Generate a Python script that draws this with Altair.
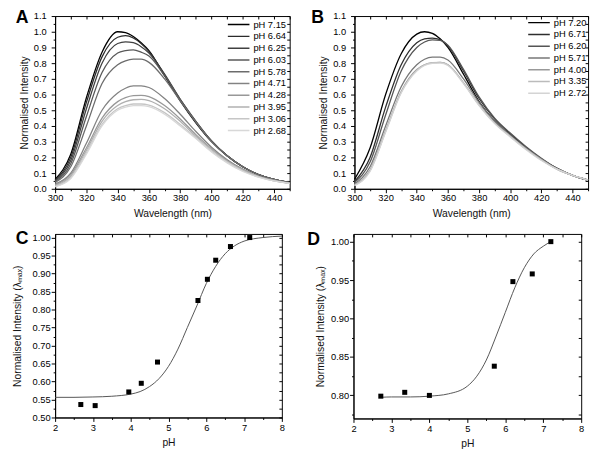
import altair as alt
import pandas as pd

FONT = "Liberation Sans"

# ---------------- Panel A: emission spectra ----------------
wavelengths = [300, 310, 320, 330, 340, 345, 350, 355, 360, 370, 380, 390, 400, 410, 420, 430, 440, 450]

a_labels = ["pH 7.15", "pH 6.64", "pH 6.25", "pH 6.03", "pH 5.78",
            "pH 4.71", "pH 4.28", "pH 3.95", "pH 3.06", "pH 2.68"]
a_colors = ["#000000", "#2b2b2b", "#404040", "#585858", "#6c6c6c",
            "#828282", "#989898", "#b0b0b0", "#c6c6c6", "#d8d8d8"]
a_715 = [0.06, 0.22, 0.58, 0.87, 1.00, 0.995, 0.97, 0.93, 0.88, 0.72, 0.56, 0.42, 0.30, 0.21, 0.14, 0.09, 0.06, 0.04]
a_664 = [0.055, 0.20, 0.55, 0.84, 0.965, 0.975, 0.96, 0.925, 0.875, 0.725, 0.565, 0.425, 0.305, 0.21, 0.14, 0.09, 0.06, 0.04]
a_625 = [0.05, 0.18, 0.51, 0.80, 0.925, 0.935, 0.93, 0.905, 0.865, 0.73, 0.57, 0.43, 0.305, 0.21, 0.14, 0.09, 0.06, 0.04]
a_603 = [0.045, 0.16, 0.46, 0.74, 0.865, 0.88, 0.885, 0.87, 0.845, 0.72, 0.57, 0.43, 0.305, 0.21, 0.14, 0.09, 0.06, 0.04]
a_578 = [0.04, 0.14, 0.40, 0.67, 0.79, 0.815, 0.825, 0.825, 0.805, 0.70, 0.56, 0.425, 0.30, 0.21, 0.14, 0.09, 0.06, 0.04]
a_471 = [0.03, 0.10, 0.29, 0.50, 0.61, 0.64, 0.655, 0.655, 0.645, 0.575, 0.475, 0.365, 0.265, 0.185, 0.125, 0.08, 0.055, 0.035]
a_428 = [0.025, 0.09, 0.26, 0.45, 0.555, 0.58, 0.593, 0.595, 0.587, 0.53, 0.445, 0.345, 0.255, 0.18, 0.12, 0.08, 0.055, 0.035]
a_395 = [0.02, 0.08, 0.245, 0.43, 0.53, 0.555, 0.567, 0.57, 0.562, 0.51, 0.43, 0.335, 0.25, 0.175, 0.12, 0.08, 0.05, 0.035]
a_306 = [0.015, 0.07, 0.23, 0.41, 0.51, 0.53, 0.54, 0.54, 0.533, 0.485, 0.41, 0.325, 0.24, 0.17, 0.115, 0.075, 0.05, 0.035]
a_268 = [0.012, 0.065, 0.22, 0.40, 0.50, 0.52, 0.53, 0.53, 0.523, 0.475, 0.40, 0.32, 0.235, 0.165, 0.11, 0.075, 0.05, 0.035]
a_series = [a_715, a_664, a_625, a_603, a_578, a_471, a_428, a_395, a_306, a_268]

# ---------------- Panel B: emission spectra ----------------
b_labels = ["pH 7.20", "pH 6.71", "pH 6.20", "pH 5.71", "pH 4.00", "pH 3.35", "pH 2.72"]
b_colors = ["#000000", "#2e2e2e", "#555555", "#777777", "#999999", "#bbbbbb", "#d4d4d4"]
b_720 = [0.06, 0.26, 0.60, 0.86, 0.985, 1.0, 0.99, 0.955, 0.90, 0.73, 0.555, 0.43, 0.34, 0.26, 0.19, 0.13, 0.085, 0.055]
b_671 = [0.045, 0.20, 0.52, 0.79, 0.93, 0.955, 0.96, 0.95, 0.91, 0.75, 0.575, 0.445, 0.35, 0.265, 0.19, 0.13, 0.085, 0.055]
b_620 = [0.04, 0.17, 0.47, 0.75, 0.90, 0.935, 0.948, 0.945, 0.915, 0.76, 0.585, 0.45, 0.355, 0.27, 0.195, 0.13, 0.085, 0.055]
b_571 = [0.03, 0.14, 0.40, 0.65, 0.79, 0.825, 0.838, 0.838, 0.82, 0.70, 0.55, 0.43, 0.34, 0.26, 0.19, 0.13, 0.085, 0.055]
b_400 = [0.025, 0.12, 0.37, 0.62, 0.76, 0.79, 0.802, 0.805, 0.79, 0.675, 0.535, 0.42, 0.335, 0.255, 0.185, 0.125, 0.085, 0.055]
b_335 = [0.022, 0.115, 0.365, 0.615, 0.755, 0.79, 0.803, 0.805, 0.79, 0.675, 0.535, 0.42, 0.335, 0.255, 0.185, 0.125, 0.085, 0.055]
b_272 = [0.02, 0.11, 0.36, 0.61, 0.75, 0.785, 0.798, 0.80, 0.785, 0.67, 0.53, 0.415, 0.33, 0.25, 0.18, 0.125, 0.085, 0.055]
b_series = [b_720, b_671, b_620, b_571, b_400, b_335, b_272]

# ---------------- Panel C: intensity vs pH ----------------
c_ph = [2.68, 3.06, 3.95, 4.28, 4.71, 5.78, 6.03, 6.25, 6.64, 7.15]
c_int = [0.536, 0.533, 0.571, 0.595, 0.654, 0.825, 0.884, 0.937, 0.975, 1.0]
c_fit_ph = [2.0, 2.5, 3.0, 3.5, 4.0, 4.25, 4.5, 4.75, 5.0, 5.25, 5.5, 5.75, 6.0, 6.25, 6.5, 6.75, 7.0, 7.5, 8.0]
c_fit_int = [0.556, 0.556, 0.557, 0.559, 0.565, 0.572, 0.586, 0.608, 0.642, 0.69, 0.75, 0.81, 0.872, 0.92, 0.955, 0.977, 0.99, 1.0, 1.004]

# ---------------- Panel D: intensity vs pH ----------------
d_ph = [2.72, 3.35, 4.00, 5.71, 6.20, 6.71, 7.20]
d_int = [0.799, 0.804, 0.800, 0.838, 0.948, 0.958, 1.000]
d_fit_ph = [2.72, 3.0, 3.5, 4.0, 4.5, 5.0, 5.25, 5.5, 5.75, 6.0, 6.25, 6.5, 6.75, 7.0, 7.2]
d_fit_int = [0.7975, 0.798, 0.798, 0.799, 0.802, 0.812, 0.825, 0.846, 0.876, 0.908, 0.94, 0.966, 0.984, 0.994, 1.0]

panel_letters = ["A", "B", "C", "D"]

# tick positions
spec_x_ticks = list(range(300, 451, 10))
spec_y_ticks = [round(i * 0.05, 2) for i in range(23)]
ph_ticks = [2 + i * 0.5 for i in range(13)]
c_y_ticks = [round(0.5 + i * 0.025, 3) for i in range(21)]
d_y_ticks = [round(0.775 + i * 0.025, 3) for i in range(10)]


def cond_size(test, major, minor):
    return {"condition": {"test": test, "value": major}, "value": minor}


def letter_layer(text, dx, dy):
    return alt.Chart(pd.DataFrame({"t": [text]})).mark_text(
        font=FONT, fontSize=18, fontWeight="bold", color="black",
        align="left", baseline="alphabetic"
    ).encode(text="t:N", x=alt.value(dx), y=alt.value(dy))


def mirror_axes(df, xfield, yfield, xs, ys, xticks, yticks, detail=None):
    enc = dict(
        x=alt.X(xfield, scale=xs, axis=alt.Axis(orient="top", values=xticks, labels=False, title=None,
                                                 tickSize=3, offset=-3, domain=False, grid=False)),
        y=alt.Y(yfield, scale=ys, axis=alt.Axis(orient="right", values=yticks, labels=False, title=None,
                                                 tickSize=3, offset=-3, domain=False, grid=False)),
    )
    if detail:
        enc["detail"] = detail
    return alt.Chart(df).mark_line(opacity=0).encode(**enc)


def spectra_panel(labels, series, colors, field, letter, letter_dx, width, height, leg_offset):
    rows = []
    for name, vals in zip(labels, series):
        for w, v in zip(wavelengths, vals):
            rows.append({"w": w, "v": v, field: name})
    df = pd.DataFrame(rows)
    xs = alt.Scale(domain=[300, 450], nice=False, zero=False)
    ys = alt.Scale(domain=[0, 1.1], nice=False, zero=False)
    x_axis = alt.Axis(values=spec_x_ticks, title="Wavelength (nm)", grid=False,
                      labelExpr="datum.value % 20 == 0 && datum.value < 450 ? datum.label : ''",
                      tickSize=cond_size("datum.value % 20 == 0", 4, 2),
                      labelPadding=0, titlePadding=7, labelFlush=False)
    y_axis = alt.Axis(values=spec_y_ticks, title="Normalised Intensity", grid=False,
                      labelExpr="round(datum.value * 100) % 10 == 0 ? format(datum.value, '.1f') : ''",
                      tickSize=cond_size("round(datum.value * 100) % 10 == 0", 4, 2),
                      labelPadding=5, titlePadding=4, labelFlush=False)
    lines = alt.Chart(df).mark_line(strokeWidth=1.3, interpolate="monotone").encode(
        x=alt.X("w:Q", scale=xs, axis=x_axis),
        y=alt.Y("v:Q", scale=ys, axis=y_axis),
        color=alt.Color(f"{field}:N", sort=labels,
                        scale=alt.Scale(domain=labels, range=colors),
                        legend=alt.Legend(title=None, orient="top-right", offset=leg_offset,
                                          symbolType="stroke", symbolSize=484, symbolStrokeWidth=1.5,
                                          labelFont=FONT, labelFontSize=9.5, labelColor="black",
                                          clipHeight=11.4, rowPadding=0, labelOffset=3, padding=0)),
        order=alt.Order("w:Q"),
    )
    mirror = mirror_axes(df, "w:Q", "v:Q", xs, ys, spec_x_ticks, spec_y_ticks, detail=f"{field}:N")
    return alt.layer(lines, mirror, letter_layer(letter, letter_dx, 7)).resolve_axis(
        x="independent", y="independent").properties(width=width, height=height)


def fit_panel(ph, inten, fph, fint, ydomain, yticks, letter, letter_dx, letter_dy, width, height, y_tp):
    pts_df = pd.DataFrame({"ph": ph, "i": inten})
    fit_df = pd.DataFrame({"ph": fph, "i": fint})
    xs = alt.Scale(domain=[2, 8], nice=False, zero=False)
    ys = alt.Scale(domain=ydomain, nice=False, zero=False)
    x_axis = alt.Axis(values=ph_ticks, title="pH", grid=False,
                      labelExpr="datum.value % 1 == 0 ? format(datum.value, 'd') : ''",
                      tickSize=cond_size("datum.value % 1 == 0", 4, 2),
                      labelPadding=1, titlePadding=6, labelFlush=False)
    y_axis = alt.Axis(values=yticks, title="Normalised Intensity (λₘₐₓ)", grid=False,
                      labelExpr="round(datum.value * 1000) % 50 == 0 ? format(datum.value, '.2f') : ''",
                      tickSize=cond_size("round(datum.value * 1000) % 50 == 0", 4, 2),
                      labelPadding=1, titlePadding=y_tp, labelFlush=False)
    fit = alt.Chart(fit_df).mark_line(color="#555555", strokeWidth=1, interpolate="monotone").encode(
        x=alt.X("ph:Q", scale=xs, axis=x_axis),
        y=alt.Y("i:Q", scale=ys, axis=y_axis),
    )
    pts = alt.Chart(pts_df).mark_square(size=26, color="black", opacity=1).encode(
        x=alt.X("ph:Q", scale=xs, axis=None),
        y=alt.Y("i:Q", scale=ys, axis=None),
    )
    mirror = mirror_axes(fit_df, "ph:Q", "i:Q", xs, ys, ph_ticks, yticks)
    return alt.layer(fit, pts, mirror, letter_layer(letter, letter_dx, letter_dy)).resolve_axis(
        x="independent", y="independent").properties(width=width, height=height)


panel_a = spectra_panel(a_labels, a_series, a_colors, "seriesA", panel_letters[0], -40, 239, 176, 3)
panel_b = spectra_panel(b_labels, b_series, b_colors, "seriesB", panel_letters[1], -44, 238, 176, 1)
panel_c = fit_panel(c_ph, c_int, c_fit_ph, c_fit_int, [0.5, 1.01], c_y_ticks, panel_letters[2], -40, 10.7, 231, 187, 10)
panel_d = fit_panel(d_ph, d_int, d_fit_ph, d_fit_int, [0.77, 1.01], d_y_ticks, panel_letters[3], -47, 11.7, 232, 188, 5.5)

row1 = alt.hconcat(panel_a, panel_b, spacing=17).resolve_scale(color="independent", x="independent", y="independent")
row2 = alt.hconcat(panel_c, panel_d, spacing=21).resolve_scale(x="independent", y="independent")

chart = alt.vconcat(row1, row2, spacing=10).properties(
    padding={"left": 4, "top": -4, "right": 0, "bottom": 0}
).configure_view(stroke="black", strokeWidth=1).configure_axis(
    labelFont=FONT, titleFont=FONT, labelFontSize=9.5, titleFontSize=10.5,
    titleFontWeight="normal", labelColor="black", titleColor="#111111",
    domainColor="black", tickColor="black", domainWidth=1, tickWidth=1,
).configure_title(font=FONT)

chart.save("out.html", embed_options={"renderer": "svg", "actions": False})
